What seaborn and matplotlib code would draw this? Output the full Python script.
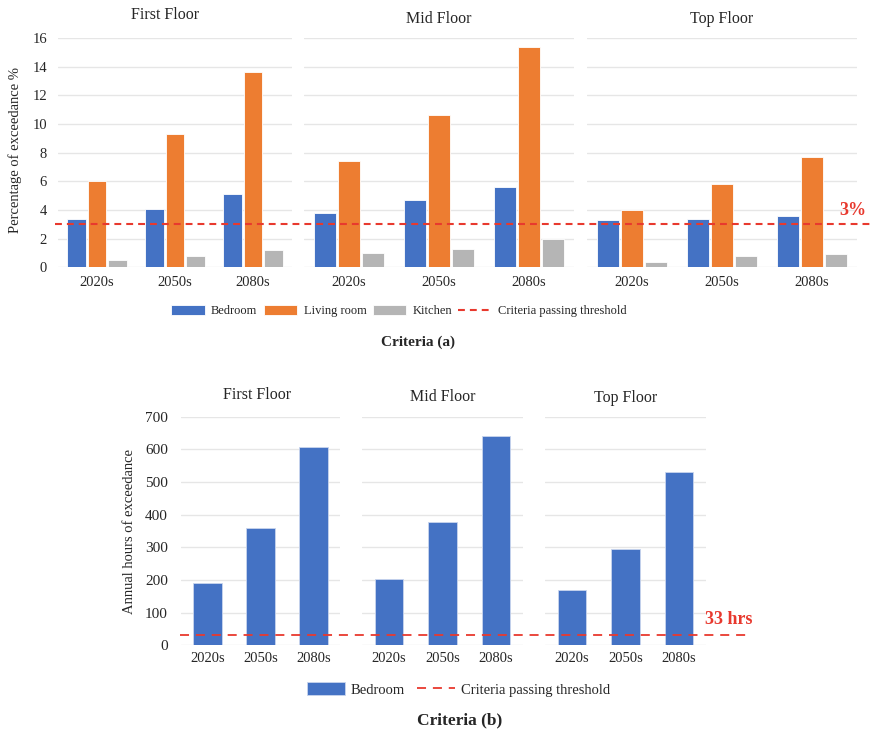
import matplotlib
matplotlib.use("Agg")
import matplotlib.pyplot as plt
import matplotlib.transforms as mtransforms
from matplotlib.lines import Line2D
import seaborn as sns
import pandas as pd

# ---- data -------------------------------------------------------------
decades = ["2020s", "2050s", "2080s"]
floors = ["First Floor", "Mid Floor", "Top Floor"]
rooms = ["Bedroom", "Living room", "Kitchen"]

# percentage of occupied hours exceeding the criterion, one row per floor
bedroom_pct = [[3.4, 4.1, 5.1], [3.8, 4.7, 5.6], [3.3, 3.4, 3.6]]
living_pct = [[6.0, 9.3, 13.6], [7.4, 10.6, 15.4], [4.0, 5.8, 7.7]]
kitchen_pct = [[0.5, 0.8, 1.2], [1.0, 1.3, 1.95], [0.4, 0.8, 0.9]]

# annual hours of exceedance in bedrooms, one row per floor
bedroom_hours = [[190, 358, 607], [203, 377, 642], [168, 296, 531]]

pct_threshold = 3
hours_threshold = 33
pct_ticks = [0, 2, 4, 6, 8, 10, 12, 14, 16]
hours_ticks = [0, 100, 200, 300, 400, 500, 600, 700]

room_colors = {"Bedroom": "#4472C4", "Living room": "#ED7D31", "Kitchen": "#B5B5B5"}
red = "#E8392E"

# ---- long-form tables -------------------------------------------------
rows = []
for fi, fl in enumerate(floors):
    for room, table in zip(rooms, [bedroom_pct, living_pct, kitchen_pct]):
        for di, dec in enumerate(decades):
            rows.append({"floor": fl, "room": room, "decade": dec, "value": table[fi][di]})
pct_df = pd.DataFrame(rows)

rows = []
for fi, fl in enumerate(floors):
    for di, dec in enumerate(decades):
        rows.append({"floor": fl, "room": "Bedroom", "decade": dec, "value": bedroom_hours[fi][di]})
hours_df = pd.DataFrame(rows)

# ---- figure -----------------------------------------------------------
sns.set_theme(style="white")
plt.rcParams["font.family"] = ["Liberation Serif", "DejaVu Serif"]

W, H = 871, 729
fig = plt.figure(figsize=(W / 100, H / 100), dpi=100)


def px_axes(l, t, r, b):
    ax = fig.add_axes([l / W, 1 - b / H, (r - l) / W, (b - t) / H])
    ax.patch.set_visible(False)
    return ax


def style_axes(ax, ticks, show_labels, ytick_pad, xtick_pad, fs_y, fs_x):
    ax.set_ylim(ticks[0], ticks[-1])
    ax.set_yticks(ticks)
    for s in ax.spines.values():
        s.set_visible(False)
    ax.yaxis.grid(True, color="#E6E6E6", linewidth=1.0)
    ax.set_axisbelow(True)
    ax.tick_params(axis="both", length=0)
    ax.tick_params(axis="y", pad=ytick_pad, labelsize=fs_y, labelleft=show_labels)
    ax.tick_params(axis="x", pad=xtick_pad, labelsize=fs_x)
    ax.set_xlabel("")
    ax.set_ylabel("")


def threshold_line(ax, x0, x1, value, **kw):
    # horizontal line spanning several panels: x in figure pixels, y in data units
    trf = mtransforms.blended_transform_factory(fig.transFigure, ax.transData)
    ln = Line2D([x0 / W, x1 / W], [value, value], transform=trf, zorder=5, **kw)
    fig.add_artist(ln)
    return trf


# ---- criteria (a) -----------------------------------------------------
top_boxes = [(58, 38, 292, 267.3), (304, 38, 574, 267.3), (587, 38, 857, 267.3)]
top_title = [(0.457, 13.5), (0.5, 11.0), (0.5, 11.0)]
top_axes = []
for i, (fl, box) in enumerate(zip(floors, top_boxes)):
    ax = px_axes(*box)
    sns.barplot(data=pct_df[pct_df.floor == fl], x="decade", y="value", hue="room",
                order=decades, hue_order=rooms, palette=room_colors, saturation=1,
                width=0.8, gap=0.1, edgecolor="white", linewidth=0.6, ax=ax)
    handles_a, labels_a = ax.get_legend_handles_labels()
    if ax.get_legend() is not None:
        ax.get_legend().remove()
    style_axes(ax, pct_ticks, i == 0, 8, 6.5, 10.5, 10.5)
    ax.set_title(fl, fontsize=11.5, x=top_title[i][0], pad=top_title[i][1])
    top_axes.append(ax)

ax0 = top_axes[0]
trf_a = threshold_line(ax0, 55, 870, pct_threshold, color=red, lw=1.5, dashes=(3.3, 2.4))
fig.add_artist(matplotlib.text.Annotation(
    f"{pct_threshold}%", xy=(853 / W, pct_threshold), xycoords=trf_a,
    xytext=(0, 4), textcoords="offset points", ha="center", va="bottom",
    color=red, fontsize=13, fontweight="bold", zorder=6))

fig.text(15 / W, 1 - 150 / H, "Percentage of exceedance %", rotation=90,
         ha="center", va="center", fontsize=10.5)

line_a = Line2D([], [], color=red, lw=1.5, dashes=(3.3, 2.4))
fig.legend(handles_a + [line_a], labels_a + ["Criteria passing threshold"],
           loc="center", bbox_to_anchor=(399 / W, 1 - 311 / H), ncol=4,
           frameon=False, fontsize=9, handlelength=2.7, handleheight=0.95,
           handletextpad=0.5, columnspacing=0.5, borderaxespad=0)
fig.text(418 / W, 1 - 342 / H, "Criteria (a)", ha="center", va="center",
         fontsize=11, fontweight="bold")

# ---- criteria (b) -----------------------------------------------------
bottom_boxes = [(181, 416.7, 340, 645.3), (362, 416.7, 523, 645.3), (545, 416.7, 706, 645.3)]
bottom_title = [(0.478, 12.7), (0.5, 11.3), (0.5, 10.8)]
bottom_axes = []
for i, (fl, box) in enumerate(zip(floors, bottom_boxes)):
    ax = px_axes(*box)
    sns.barplot(data=hours_df[hours_df.floor == fl], x="decade", y="value", hue="room",
                order=decades, hue_order=["Bedroom"], palette=room_colors, saturation=1,
                width=0.53, edgecolor="#C9D5EE", linewidth=0.6, ax=ax)
    handles_b, labels_b = ax.get_legend_handles_labels()
    if ax.get_legend() is not None:
        ax.get_legend().remove()
    style_axes(ax, hours_ticks, i == 0, 9.4, 5, 11, 10.5)
    ax.set_title(fl, fontsize=11.5, x=bottom_title[i][0], pad=bottom_title[i][1])
    bottom_axes.append(ax)

bx0 = bottom_axes[0]
trf_b = threshold_line(bx0, 180, 748, hours_threshold, color=red, lw=1.3, dashes=(5, 3.8))
fig.add_artist(matplotlib.text.Annotation(
    f"{hours_threshold} hrs", xy=(729 / W, hours_threshold), xycoords=trf_b,
    xytext=(0, 5), textcoords="offset points", ha="center", va="bottom",
    color=red, fontsize=13, fontweight="bold", zorder=6))

fig.text(129 / W, 1 - 531 / H, "Annual hours of exceedance", rotation=90,
         ha="center", va="center", fontsize=10.5)

line_b = Line2D([], [], color=red, lw=1.3, dashes=(5, 3.8))
fig.legend(handles_b + [line_b], labels_b + ["Criteria passing threshold"],
           loc="center", bbox_to_anchor=(458.5 / W, 1 - 689.5 / H), ncol=2,
           frameon=False, fontsize=10.5, handlelength=2.6, handleheight=0.9,
           handletextpad=0.4, columnspacing=0.8, borderaxespad=0)
fig.text(460 / W, 1 - 720 / H, "Criteria (b)", ha="center", va="center",
         fontsize=12.5, fontweight="bold")

fig.savefig("out.png", dpi=100, facecolor="white")
